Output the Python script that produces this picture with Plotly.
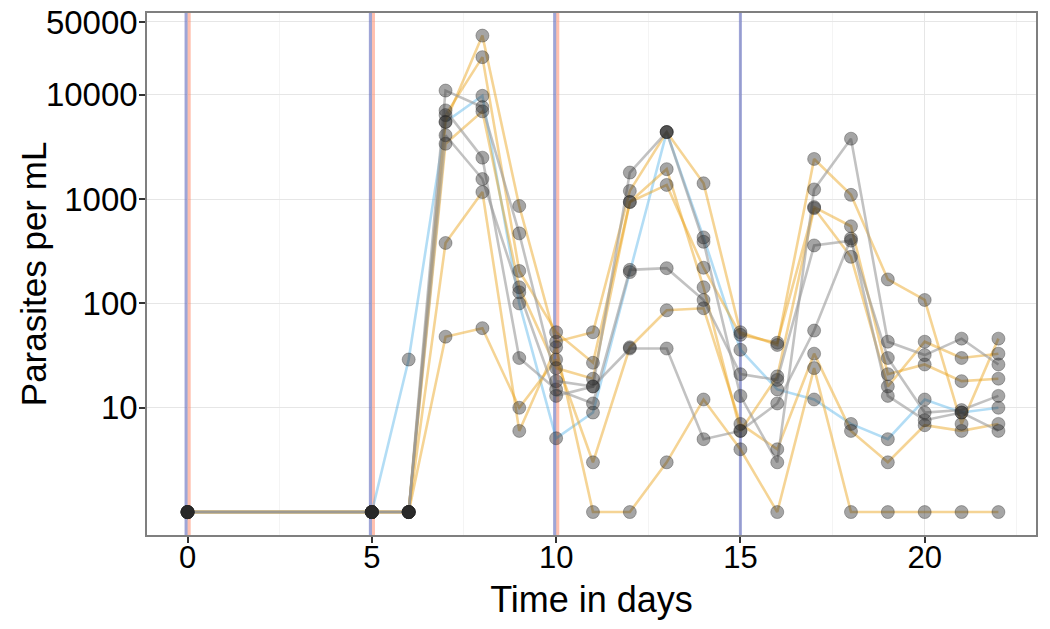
import plotly.graph_objects as go

# ---- data ----
days = [0, 5, 6, 7, 8, 9, 10, 11, 12, 13, 14, 15, 16, 17, 18, 19, 20, 21, 22]

blue_1 = [1, 1, 29, 5500, 9800, 100, 5.1, 9, 200, 4400, 430, 36, 15, 12, 7, 5, 12, 9, 10]
orange_1 = [1, 1, 1, 5500, 37000, 860, 43, 53, 1200, 4400, 1420, 53, 40, 2430, 1100, 170, 108, 7, 46]
orange_2 = [1, 1, 1, 6400, 23000, 205, 53, 27, 940, 1940, 143, 6, 20, 820, 280, 16, 43, 30, 33]
orange_3 = [1, 1, 1, 3400, 6950, 143, 24, 19, 940, 1370, 220, 50, 42, 840, 550, 21, 26, 18, 19]
orange_4 = [1, 1, 1, 48, 58, 10, 29, 3, 38, 86, 90, 7, 4, 33, 6, 3, 6.8, 6, 7]
orange_5 = [1, 1, 1, 380, 1170, 6, 38, 1, 1, 3, 12, 4, 1, 24, 1, 1, 1, 1, 1]
gray_1 = [1, 1, 1, 11000, 7650, 470, 18, 16, 1800, 4400, 390, 13, 3, 1240, 3800, 43, 32, 46, 26]
gray_2 = [1, 1, 1, 7100, 2500, 30, 15, 11, 210, 218, 108, 21, 18.5, 360, 400, 30, 9, 9.5, 13]
gray_3 = [1, 1, 1, 4100, 1560, 128, 13, 16, 37, 37, 5, 6, 11, 55, 420, 13, 7.6, 9, 6]

series_gray = [gray_1, gray_2, gray_3]
series_orange = [orange_1, orange_2, orange_3, orange_4, orange_5]
series_blue = [blue_1]

treat_a_days = [0, 5, 10]        # blue + red markers
treat_b_days = [15]              # blue only

y_ticks = [10, 100, 1000, 10000, 50000]
y_tick_text = ["10", "100", "1000", "10000", "50000"]
x_ticks = [0, 5, 10, 15, 20]

# ---- styles ----
X_RANGE = [-1.1, 23.02]
Y_RANGE_LOG = [-0.22, 4.785]
C_GRAY = "rgba(153,153,153,0.6)"
C_ORANGE = "rgba(232,160,20,0.45)"
C_BLUE = "rgba(86,180,233,0.45)"
C_VBLUE = "rgba(100,110,190,0.62)"
C_VRED = "rgba(255,140,110,0.55)"
PT = "rgba(40,40,40,0.42)"
FONT = "Liberation Sans, Arial, Helvetica, sans-serif"

fig = go.Figure()

ylo, yhi = 10 ** Y_RANGE_LOG[0], 10 ** Y_RANGE_LOG[1]


def vline(xpos, col):
    fig.add_trace(go.Scatter(x=[xpos, xpos], y=[ylo, yhi], mode="lines",
                             line=dict(color=col, width=3),
                             hoverinfo="skip", showlegend=False))


for d in treat_a_days:
    vline(d - 0.04, C_VBLUE)
    vline(d + 0.045, C_VRED)
for d in treat_b_days:
    vline(d, C_VBLUE)

for group, col in [(series_blue, C_BLUE), (series_orange, C_ORANGE), (series_gray, C_GRAY)]:
    for s in group:
        fig.add_trace(go.Scatter(x=days, y=s, mode="lines",
                                 line=dict(color=col, width=2.6),
                                 hoverinfo="skip", showlegend=False))

for s in series_gray + series_orange + series_blue:
    fig.add_trace(go.Scatter(x=days, y=s, mode="markers",
                             marker=dict(size=13, color=PT,
                                         line=dict(color=PT, width=0.8)),
                             showlegend=False))

fig.update_layout(
    width=1050, height=629,
    margin=dict(l=147, r=14, t=13, b=94),
    paper_bgcolor="white", plot_bgcolor="white",
    showlegend=False,
    font=dict(family=FONT, color="black"),
    annotations=[dict(text="Parasites per mL", textangle=-90, showarrow=False,
                      xref="paper", yref="paper", x=-0.128, y=0.5,
                      xanchor="center", yanchor="middle",
                      font=dict(size=35, family=FONT, color="black"))],
)

fig.update_xaxes(
    automargin=False,
    range=X_RANGE, tickvals=x_ticks, ticktext=[str(v) for v in x_ticks],
    showgrid=True, gridcolor="#E6E6E6", gridwidth=1.2,
    minor=dict(dtick=2.5, tick0=0, showgrid=True, gridcolor="#F4F4F4", gridwidth=0.8),
    ticks="outside", ticklen=6, tickwidth=2, tickcolor="#333333",
    ticklabelstandoff=-12,
    tickfont=dict(size=31, family=FONT, color="black"),
    title=dict(text="Time in days", font=dict(size=36, family=FONT, color="black"), standoff=13),
    showline=True, linecolor="#7F7F7F", linewidth=1.5, mirror=True, zeroline=False,
)
fig.update_yaxes(
    automargin=False,
    type="log", range=Y_RANGE_LOG,
    tickvals=y_ticks, ticktext=y_tick_text,
    showgrid=True, gridcolor="#E6E6E6", gridwidth=1.2,
    ticks="outside", ticklen=6, tickwidth=2, tickcolor="#333333",
    ticklabelstandoff=-5, ticklabeloverflow="allow",
    tickfont=dict(size=33, family=FONT, color="black"),
    showline=True, linecolor="#7F7F7F", linewidth=1.5, mirror=True, zeroline=False,
)

fig.write_html("out.html", config={"displayModeBar": False},
               post_script="document.body.style.margin='0';document.body.style.overflow='hidden';")
